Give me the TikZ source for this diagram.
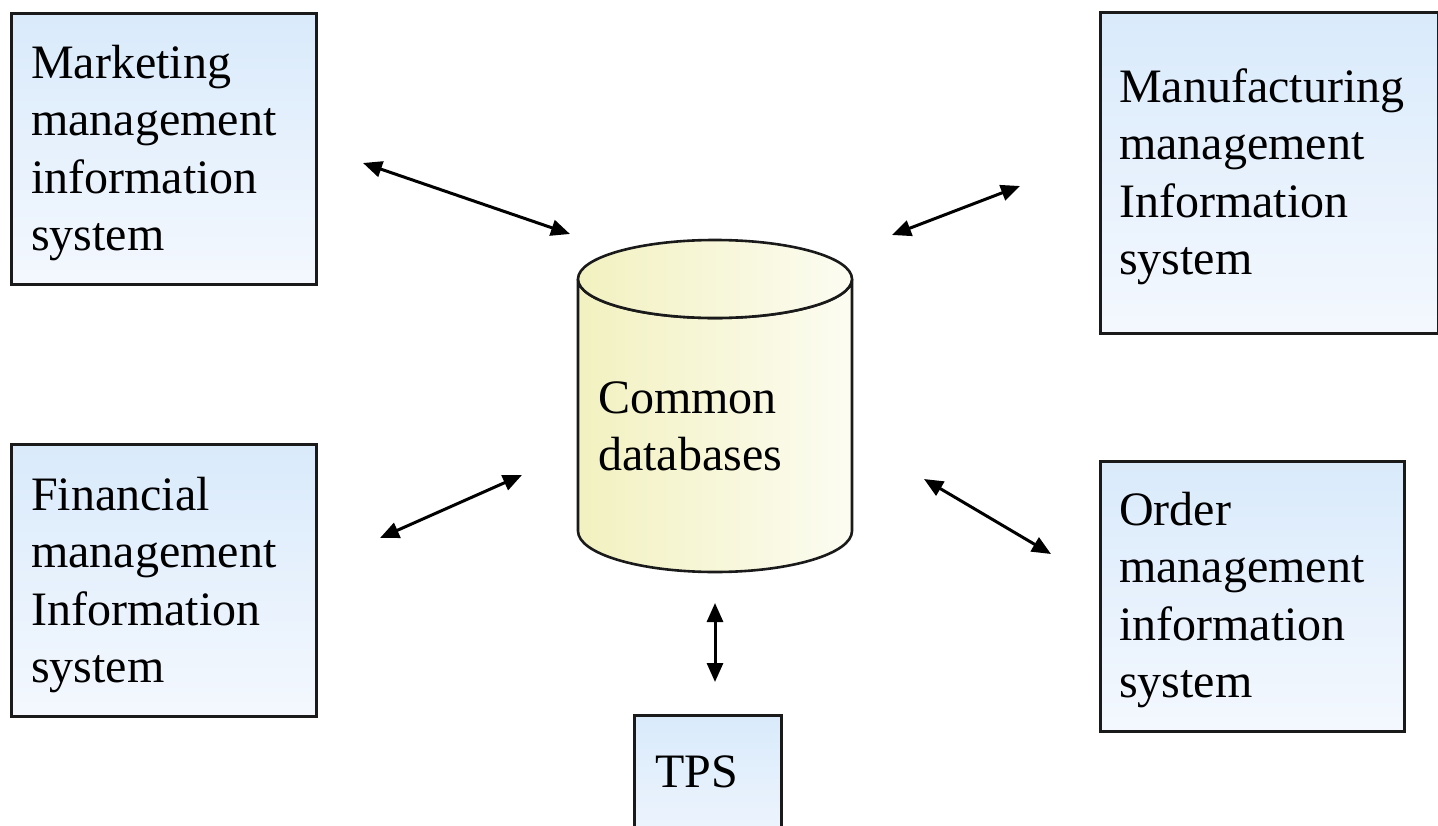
\documentclass[tikz,border=0pt]{standalone}
\usepackage{fontspec}
\setmainfont{Liberation Serif}
\usetikzlibrary{arrows.meta}
\definecolor{boxtop}{HTML}{D9EAFB}
\definecolor{boxbot}{HTML}{F4F8FE}
\definecolor{cylleft}{HTML}{F2F1C0}
\definecolor{cylright}{HTML}{FCFCF2}
\definecolor{edge}{HTML}{1A1A1A}
\newcommand{\mylines}[1]{\begin{tabular}[t]{@{}l@{}}#1\end{tabular}}
\tikzset{
  sysbox/.style={draw=edge, line width=2.8pt, top color=boxtop, bottom color=boxbot, inner sep=0pt, anchor=north west},
  label text/.style={anchor=base west, inner sep=0pt, font=\fontsize{48}{57.5}\selectfont},
  cylfill/.style={draw=edge, line width=2.6pt, left color=cylleft, right color=cylright},
  link/.style={line width=3pt, black, {Triangle[length=19pt,width=16pt]}-{Triangle[length=19pt,width=16pt]}}
}
\begin{document}
\begin{tikzpicture}[x=1pt,y=-1pt]
\useasboundingbox (0,0) rectangle (1438,825);
\clip (0,0) rectangle (1438,825);
\fill[white] (0,0) rectangle (1438,825);

% boxes
\node[sysbox, minimum width=305pt, minimum height=271pt] (mkt) at (10,12) {};
\node[label text] (mkttxt) at (31,78) {\mylines{Marketing\\management\\information\\system}};

\node[sysbox, minimum width=338pt, minimum height=321pt] (man) at (1099,11) {};
\node[label text] (mantxt) at (1119,102) {\mylines{Manufacturing\\management\\Information\\system}};

\node[sysbox, minimum width=305pt, minimum height=272pt] (fin) at (10,443) {};
\node[label text] (fintxt) at (31,510) {\mylines{Financial\\management\\Information\\system}};

\node[sysbox, minimum width=304pt, minimum height=270pt] (ord) at (1099,460) {};
\node[label text] (ordtxt) at (1119,525) {\mylines{Order\\management\\information\\system}};

\node[sysbox, minimum width=147pt, minimum height=160pt] (tps) at (633,714) {};
\node[label text] (tpstxt) at (655,787) {TPS};

% cylinder
\path[cylfill]
  (578,279) -- (578,531) arc[start angle=180, end angle=360, x radius=137, y radius=-41]
  -- (852,279) arc[start angle=0, end angle=180, x radius=137, y radius=39] -- cycle;
\path[cylfill] (715,279) ellipse[x radius=137, y radius=39];
\node[label text] (db) at (598,413) {\mylines{Common\\databases}};

% connector ends
\coordinate (a1) at (363,163); \coordinate (b1) at (570,234);
\coordinate (a2) at (892,235); \coordinate (b2) at (1020,186);
\coordinate (a3) at (380,538); \coordinate (b3) at (522,475);
\coordinate (a4) at (924,479); \coordinate (b4) at (1051,554);
\coordinate (a5) at (715,603); \coordinate (b5) at (715,682);

\draw[link] (a1) -- (b1);
\draw[link] (a2) -- (b2);
\draw[link] (a3) -- (b3);
\draw[link] (a4) -- (b4);
\draw[link] (a5) -- (b5);
\end{tikzpicture}
\end{document}
